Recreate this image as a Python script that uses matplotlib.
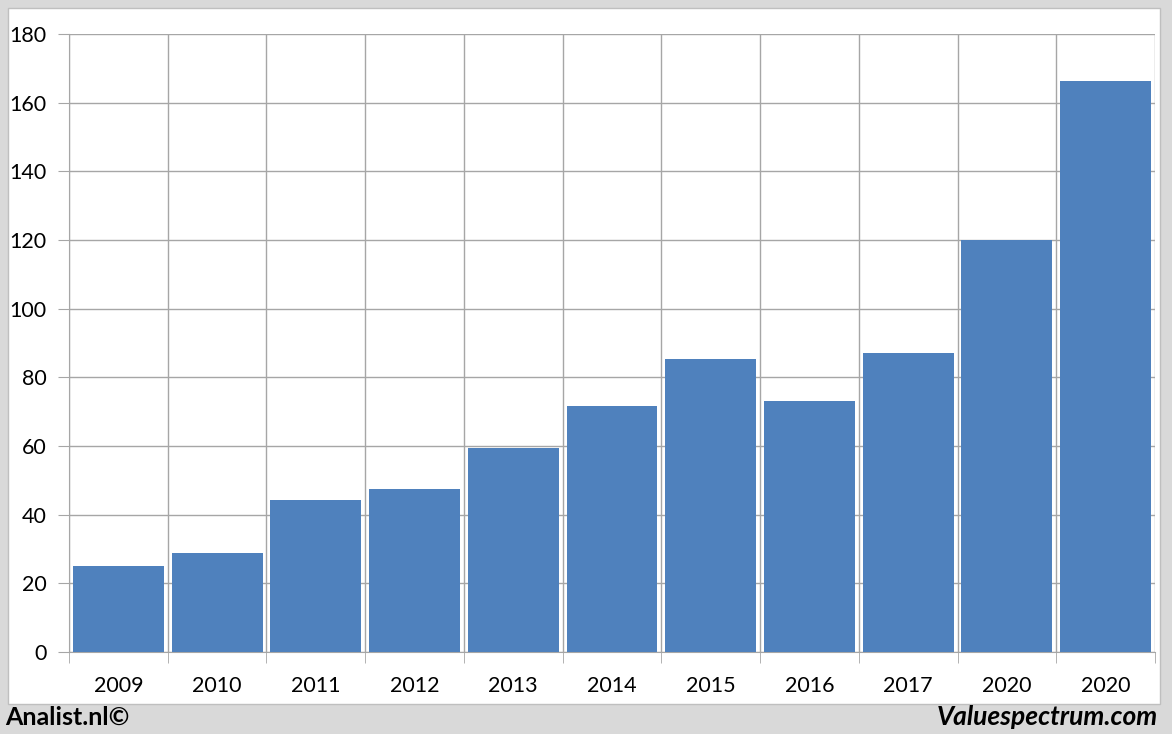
import matplotlib
matplotlib.use("Agg")
import matplotlib.pyplot as plt
from matplotlib.patches import Rectangle

plt.rcParams['font.family'] = ['Lato', 'DejaVu Sans']

years = ["2009", "2010", "2011", "2012", "2013", "2014", "2015", "2016", "2017", "2020", "2020"]
values = [25.0, 28.8, 44.3, 47.5, 59.4, 71.7, 85.3, 73.1, 87.1, 120.0, 166.3]
yticks = [0, 20, 40, 60, 80, 100, 120, 140, 160, 180]

fig = plt.figure(figsize=(11.72, 7.34), dpi=100)
fig.patch.set_facecolor("#d9d9d9")

# white chart area inside the gray frame
fig.patches.append(Rectangle((8 / 1172, 1 - 704 / 734), 1152 / 1172, 696 / 734,
                             transform=fig.transFigure, facecolor="white",
                             edgecolor="#bfbfbf", linewidth=1, zorder=-10))

ax = fig.add_axes([69 / 1172, 1 - 652 / 734, 1086 / 1172, 618 / 734])
ax.set_zorder(5)
ax.set_facecolor("white")

pos = list(range(len(years)))
ax.bar(pos, values, width=0.92, color="#4f81bd", zorder=3)

ax.set_xlim(-0.5, len(years) - 0.5)
ax.set_ylim(0, 180)
ax.set_yticks(yticks)
ax.set_xticks(pos)
ax.set_xticklabels(years)
ax.set_xticks([p - 0.5 for p in pos] + [len(years) - 0.5], minor=True)

ax.grid(True, axis="y", color="#a6a6a6", linewidth=1, zorder=0)
ax.grid(True, axis="x", which="minor", color="#a6a6a6", linewidth=1, zorder=0)
ax.tick_params(axis="x", which="major", length=0, pad=17, labelsize=15.5)
ax.tick_params(axis="x", which="minor", length=8, color="#a6a6a6")
ax.tick_params(axis="y", length=8, color="#a6a6a6", pad=8, labelsize=15.5)

for side in ["top", "right"]:
    ax.spines[side].set_visible(False)
ax.spines["left"].set_color("#a6a6a6")
ax.spines["bottom"].set_color("#a6a6a6")

fig.text(5 / 1172, 1 - 717 / 734, "Analist.nl©", fontsize=18, fontweight="bold",
         va="center", ha="left")
fig.text(1158 / 1172, 1 - 717 / 734, "Valuespectrum.com", fontsize=19,
         fontweight="bold", fontstyle="italic", va="center", ha="right")

fig.savefig("out.png", dpi=100, facecolor=fig.get_facecolor())
